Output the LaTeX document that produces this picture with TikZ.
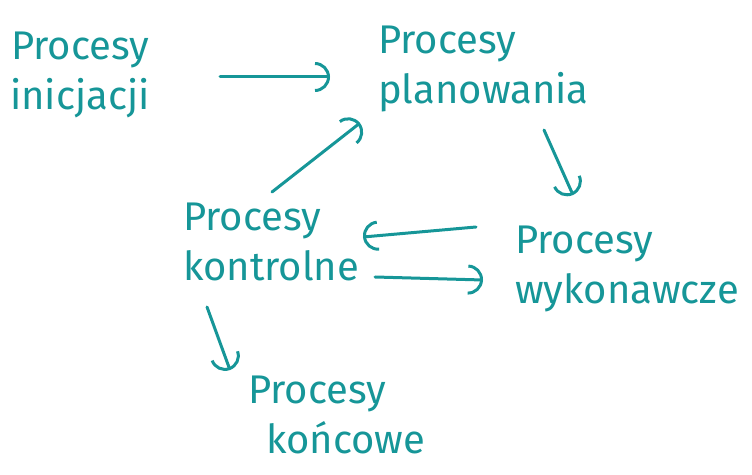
\documentclass[tikz,border=0pt]{standalone}
\usepackage{fontspec}
\setmainfont{Fira Sans}
\usetikzlibrary{arrows.meta}
\definecolor{ink}{RGB}{22,150,152}

\begin{document}
\begin{tikzpicture}[x=1pt,y=1pt,
        proc/.style={anchor=north west, inner sep=0pt, align=left, text=ink,
            font=\fontsize{40}{50}\selectfont},
        flow/.style={draw=ink, line width=3pt, line cap=round,
            -{Arc Barb[scale=2]}}]
        \useasboundingbox (0,0) rectangle (752,474);

        \node[proc, align=center] (ini) at (10,442) {Procesy\\inicjacji};
        \node[proc] (plan) at (378,448) {Procesy\\planowania};
        \node[proc] (kontr) at (183,271) {Procesy\\kontrolne};
        \node[proc] (wyk) at (515,248) {Procesy\\wykonawcze};
        \node[proc] (konc) at (248,98) {Procesy\\\hspace{18pt}końcowe};

        \draw[flow] ([shift={(210,-45)}]ini.north west) -- ([shift={(-48,-51)}]plan.north west);
        \draw[flow] ([shift={(89,11)}]kontr.north west) -- ([shift={(-18,-97)}]plan.north west);
        \draw[flow] ([shift={(166,-104)}]plan.north west) -- ([shift={(58,31)}]wyk.north west);
        \draw[flow] ([shift={(-39,-1)}]wyk.north west) -- ([shift={(180,-34)}]kontr.north west);
        \draw[flow] ([shift={(192,-74)}]kontr.north west) -- ([shift={(-32,-54)}]wyk.north west);
        \draw[flow] ([shift={(24,-104)}]kontr.north west) -- ([shift={(-18,6)}]konc.north west);

    \end{tikzpicture}
\end{document}
